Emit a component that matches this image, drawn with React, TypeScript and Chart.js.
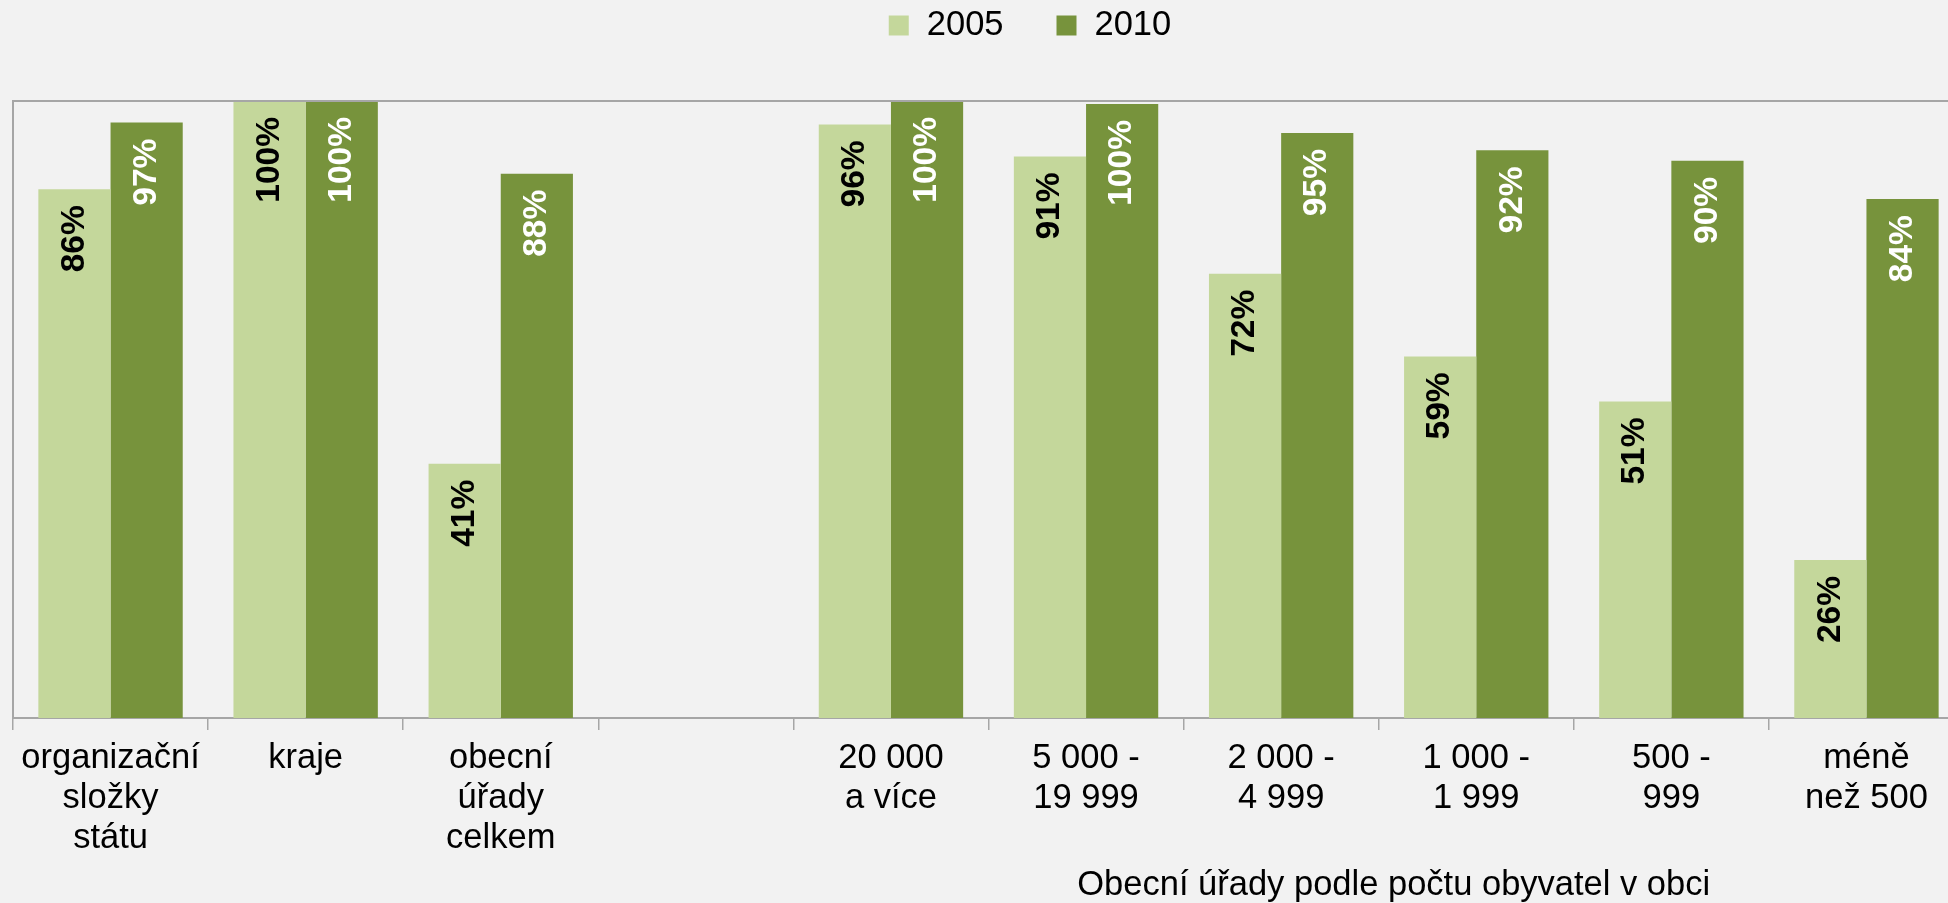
import React, { useEffect, useRef } from "react";
import { Chart, registerables } from "chart.js";

Chart.register(...registerables);

const categories: (string | string[])[] = [
  ["organizační", "složky", "státu"],
  ["kraje"],
  ["obecní", "úřady", "celkem"],
  "",
  ["20 000", "a více"],
  ["5 000 -", "19 999"],
  ["2 000 -", "4 999"],
  ["1 000 -", "1 999"],
  ["500 -", "999"],
  ["méně", "než 500"],
];

const seriesNames = ["2005", "2010"];
const values2005: (number | null)[] = [85.7, 100, 41.2, null, 96.2, 91.0, 72.0, 58.6, 51.3, 25.6];
const values2010: (number | null)[] = [96.5, 100, 88.2, null, 100, 99.5, 94.8, 92.0, 90.3, 84.1];
const axisTitle = "Obecní úřady podle počtu obyvatel v obci";

const FONT = "'Liberation Sans', Arial, sans-serif";
const COLORS = ["#c4d79b", "#77933c"];
const LABEL_COLORS = ["#000000", "#ffffff"];
const BG = "#f2f2f2";
const LINE = "#a6a6a6";

export default function App() {
  const ref = useRef<HTMLCanvasElement>(null);

  useEffect(() => {
    const canvas = ref.current;
    if (!canvas) return;

    const bgPlugin = {
      id: "bg",
      beforeDraw(chart: any) {
        const c = chart.ctx;
        c.save();
        c.fillStyle = BG;
        c.fillRect(0, 0, chart.width, chart.height);
        c.restore();
      },
    };

    const framePlugin = {
      id: "frame",
      afterDatasetsDraw(chart: any) {
        const { ctx, chartArea } = chart;
        const { left, top, right, bottom } = chartArea;
        ctx.save();
        ctx.strokeStyle = LINE;
        ctx.lineWidth = 2;
        ctx.beginPath();
        ctx.moveTo(left, bottom);
        ctx.lineTo(left, top);
        ctx.lineTo(right, top);
        ctx.lineTo(right, bottom);
        ctx.stroke();
        ctx.restore();
      },
    };

    const labelPlugin = {
      id: "barLabels",
      afterDatasetsDraw(chart: any) {
        const ctx = chart.ctx;
        chart.data.datasets.forEach((ds: any, i: number) => {
          const meta = chart.getDatasetMeta(i);
          meta.data.forEach((bar: any, j: number) => {
            const v = ds.data[j];
            if (v == null) return;
            ctx.save();
            ctx.translate(bar.x, bar.y + 16);
            ctx.rotate(-Math.PI / 2);
            ctx.textAlign = "right";
            ctx.textBaseline = "middle";
            ctx.font = `bold 33.5px ${FONT}`;
            ctx.fillStyle = LABEL_COLORS[i];
            ctx.fillText(Math.round(v) + "%", 0, 0);
            ctx.restore();
          });
        });
      },
    };

    const legendTitlePlugin = {
      id: "legendTitle",
      afterDraw(chart: any) {
        const ctx = chart.ctx;
        ctx.save();
        // legend
        ctx.font = `34.5px ${FONT}`;
        ctx.textBaseline = "middle";
        ctx.textAlign = "left";
        const box = 20;
        const gapText = 18;
        const gapItem = 53;
        const widths = seriesNames.map((n) => ctx.measureText(n).width);
        let total = 0;
        widths.forEach((w, i) => {
          total += box + gapText + w + (i < widths.length - 1 ? gapItem : 0);
        });
        let x = chart.width / 2 - total / 2;
        const cy = 25.5;
        seriesNames.forEach((n, i) => {
          ctx.fillStyle = COLORS[i];
          ctx.fillRect(x, cy - box / 2, box, box);
          x += box + gapText;
          ctx.fillStyle = "#000";
          ctx.fillText(n, x, cy - 0.5);
          x += widths[i] + gapItem;
        });
        // axis group title
        const xs = chart.scales.x;
        const cx = (xs.getPixelForValue(4) + xs.getPixelForValue(9)) / 2 + 15;
        ctx.textAlign = "center";
        ctx.fillStyle = "#000";
        ctx.fillText(axisTitle, cx, 885);
        ctx.restore();
      },
    };

    const chart = new Chart(canvas, {
      type: "bar",
      data: {
        labels: categories,
        datasets: [
          {
            label: seriesNames[0],
            data: values2005,
            backgroundColor: COLORS[0],
            borderWidth: 0,
            categoryPercentage: 0.74,
            barPercentage: 1.0,
          },
          {
            label: seriesNames[1],
            data: values2010,
            backgroundColor: COLORS[1],
            borderWidth: 0,
            categoryPercentage: 0.74,
            barPercentage: 1.0,
          },
        ],
      },
      options: {
        animation: false,
        responsive: false,
        devicePixelRatio: 1,
        layout: { padding: { top: 101, left: 13, right: 96, bottom: 37 } },
        plugins: {
          legend: { display: false },
          tooltip: { enabled: false },
          title: { display: false },
        },
        scales: {
          x: {
            offset: true,
            grid: {
              display: true,
              offset: true,
              drawOnChartArea: false,
              drawTicks: true,
              tickLength: 12,
              color: LINE,
              lineWidth: 1.5,
            },
            border: { display: true, color: LINE, width: 2 },
            ticks: {
              autoSkip: false,
              maxRotation: 0,
              minRotation: 0,
              padding: 8,
              color: "#000",
              font: { family: FONT, size: 34.5, lineHeight: 40 / 34.5 },
            },
          },
          y: { display: false, min: 0, max: 100 },
        },
      },
      plugins: [bgPlugin, framePlugin, labelPlugin, legendTitlePlugin],
    } as any);

    return () => chart.destroy();
  }, []);

  return (
    <div
      style={{
        position: "fixed",
        left: 0,
        top: 0,
        width: 1948,
        height: 903,
        overflow: "hidden",
        background: BG,
      }}
    >
      <canvas ref={ref} width={2060} height={903} style={{ display: "block", width: 2060, height: 903 }} />
    </div>
  );
}
